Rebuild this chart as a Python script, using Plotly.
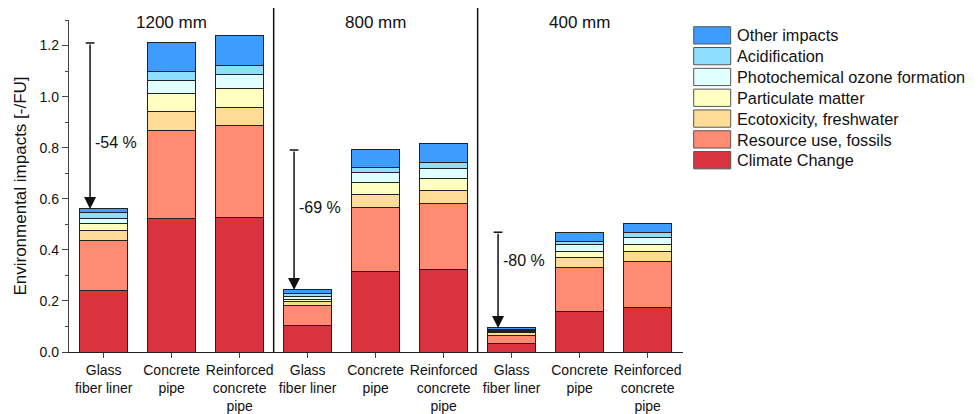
import plotly.graph_objects as go

# ---------------- data ----------------
categories = ["Glass<br>fiber liner", "Concrete<br>pipe", "Reinforced<br>concrete<br>pipe"] * 3
groups = ["1200 mm", "800 mm", "400 mm"]

climate_change = [0.239, 0.523, 0.528, 0.102, 0.317, 0.323, 0.035, 0.159, 0.176]
resource_fossils = [0.196, 0.344, 0.360, 0.082, 0.248, 0.257, 0.031, 0.170, 0.180]
ecotoxicity = [0.040, 0.074, 0.070, 0.012, 0.053, 0.054, 0.009, 0.041, 0.039]
particulate = [0.030, 0.070, 0.073, 0.011, 0.044, 0.045, 0.004, 0.022, 0.024]
photochemical = [0.017, 0.053, 0.055, 0.011, 0.041, 0.041, 0.004, 0.027, 0.031]
acidification = [0.024, 0.035, 0.037, 0.010, 0.021, 0.023, 0.004, 0.014, 0.016]
other_impacts = [0.014, 0.111, 0.116, 0.015, 0.067, 0.072, 0.007, 0.036, 0.037]

reduction_labels = ["-54 %", "-69 %", "-80 %"]
reduction_label_y = [0.82, 0.565, 0.357]

series = [
    ("Climate Change", climate_change, "#D9333F"),
    ("Resource use, fossils", resource_fossils, "#FF8B73"),
    ("Ecotoxicity, freshwater", ecotoxicity, "#FFDC96"),
    ("Particulate matter", particulate, "#FFFFC2"),
    ("Photochemical ozone formation", photochemical, "#E0FFFF"),
    ("Acidification", acidification, "#8EDFFF"),
    ("Other impacts", other_impacts, "#3D9CFF"),
]

# ---------------- figure ----------------
FONT = "Liberation Sans, Arial, sans-serif"
OFF = 8  # page body margin of the rendered html
W, H = 978, 414
xpos = list(range(len(categories)))

fig = go.Figure()
for name, vals, col in series:
    fig.add_trace(go.Bar(
        x=xpos, y=vals, name=name, width=0.7,
        marker=dict(color=col, line=dict(color="#222222", width=1)),
        showlegend=False, hoverinfo="name+y",
    ))

totals = [sum(s[1][i] for s in series) for i in range(len(categories))]

shapes = []
annotations = []

# plot area in page pixels
plot_left, plot_right, plot_top, plot_bottom = 69.3, 683.3, 20.0, 352.3
pw = plot_right - plot_left
ph = plot_bottom - plot_top


def px_x(p):
    return (p - plot_left) / pw


def px_y(p):
    return (plot_bottom - p) / ph


# group separators
for g in range(1, len(groups)):
    xs = g * 3 - 0.5
    shapes.append(dict(type="line", xref="x", yref="paper", x0=xs, x1=xs, y0=0, y1=px_y(8),
                       line=dict(color="#111111", width=1.5)))

# group titles
for g, gname in enumerate(groups):
    annotations.append(dict(x=g * 3 + 1, y=px_y(22.7), xref="x", yref="paper", text=gname,
                            showarrow=False, font=dict(size=17, color="#111111", family=FONT),
                            xanchor="center", yanchor="middle"))

# reduction arrows
for g in range(len(groups)):
    gi = g * 3
    ax_x = gi - 0.2
    top = totals[gi + 1]
    bot = totals[gi]
    annotations.append(dict(x=ax_x, y=bot, ax=ax_x, ay=top, xref="x", yref="y",
                            axref="x", ayref="y", text="", showarrow=True,
                            arrowhead=2, arrowsize=1.6, arrowwidth=1.5, arrowcolor="#111111",
                            standoff=0))
    shapes.append(dict(type="line", xref="x", yref="y", x0=ax_x - 0.065, x1=ax_x + 0.065,
                       y0=top, y1=top, line=dict(color="#111111", width=1.5)))
    annotations.append(dict(x=ax_x + 0.04, y=reduction_label_y[g], xref="x", yref="y",
                            text=reduction_labels[g], showarrow=False, xanchor="left",
                            yanchor="middle", font=dict(size=16, color="#111111", family=FONT)))

# custom legend (top to bottom: reverse stacking order)
for i, (name, vals, col) in enumerate(reversed(series)):
    top_px = 26.7 + i * 20.83
    shapes.append(dict(type="rect", xref="paper", yref="paper",
                       x0=px_x(694), x1=px_x(731), y0=px_y(top_px + 17.3), y1=px_y(top_px),
                       fillcolor=col, line=dict(color="#555555", width=1)))
    annotations.append(dict(x=px_x(735.5), y=px_y(top_px + 8.8), xref="paper", yref="paper",
                            text=name, showarrow=False, xanchor="left", yanchor="middle",
                            font=dict(size=16.3, color="#111111", family=FONT)))

fig.update_layout(
    width=W, height=H,
    margin=dict(l=plot_left - OFF, r=W - (plot_right - OFF), t=plot_top - OFF,
                b=H - (plot_bottom - OFF), autoexpand=False),
    barmode="stack",
    plot_bgcolor="white", paper_bgcolor="white",
    font=dict(family=FONT, size=14, color="#111111"),
    shapes=shapes, annotations=annotations,
    showlegend=False,
)
fig.update_xaxes(
    range=[-0.51, 8.52], tickmode="array", tickvals=xpos, ticktext=categories,
    showline=True, linecolor="#222222", linewidth=1.3, ticks="outside", ticklen=5,
    tickcolor="#444444", tickwidth=1.3, showgrid=False, zeroline=False,
    tickfont=dict(size=14, family=FONT, color="#111111"),
)
fig.update_yaxes(
    range=[0, 1.3], tickmode="array", tickvals=[0, 0.2, 0.4, 0.6, 0.8, 1.0, 1.2],
    ticktext=["0.0", "0.2", "0.4", "0.6", "0.8", "1.0", "1.2"],
    showline=True, linecolor="#444444", linewidth=1.3, ticks="outside", ticklen=6,
    tickcolor="#444444", tickwidth=1.3, showgrid=False, zeroline=False,
    minor=dict(tickvals=[0.1, 0.3, 0.5, 0.7, 0.9, 1.1, 1.3], ticks="outside", ticklen=3,
               tickcolor="#444444", tickwidth=1.2),
    tickfont=dict(size=14, family=FONT, color="#111111"),
    title=dict(text="Environmental impacts [-/FU]", font=dict(size=17, family=FONT, color="#111111"),
               standoff=8),
)

fig.write_html("out.html")
